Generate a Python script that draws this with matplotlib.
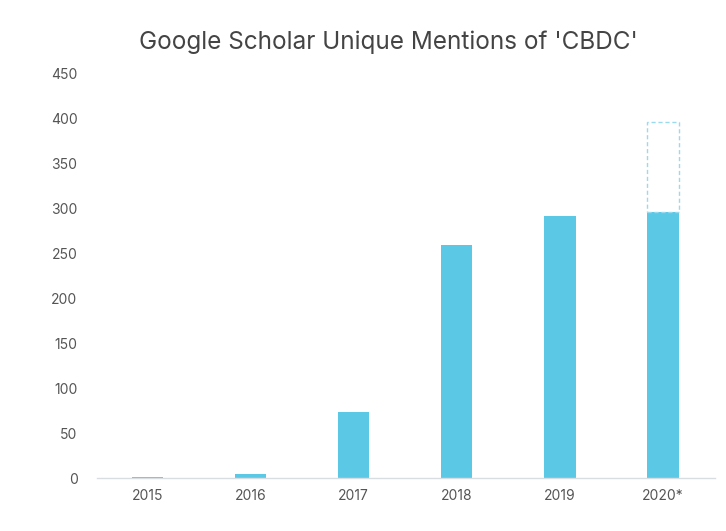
import matplotlib
matplotlib.use("Agg")
import matplotlib.pyplot as plt

plt.rcParams['font.family'] = ['Inter', 'DejaVu Sans']

years = ["2015", "2016", "2017", "2018", "2019", "2020*"]
mentions = [1, 5, 73, 259, 291, 296]
projected_2020 = 396
yticks = [0, 50, 100, 150, 200, 250, 300, 350, 400, 450]

bar_color = "#5BC8E6"
fig = plt.figure(figsize=(7.26, 5.31), dpi=100)
ax = fig.add_axes([0.1336, 0.0998, 0.8514, 0.7627])
x = list(range(len(years)))
w = 0.31
ax.bar(x, mentions, width=w, color=bar_color, zorder=2)
# projected portion for 2020
ax.bar([x[-1]], [projected_2020 - mentions[-1]], bottom=[mentions[-1]], width=w,
       facecolor="none", edgecolor="#9ADAEE", linestyle=(0, (3, 2)), linewidth=1.0, zorder=3)

ax.set_xlim(-0.49, 5.51)
ax.set_ylim(0, 450)
ax.set_yticks(yticks)
ax.set_xticks(x)
ax.set_xticklabels(years)
for s in ["top", "right", "left"]:
    ax.spines[s].set_visible(False)
ax.spines["bottom"].set_color("#D8DDE2")
ax.spines["bottom"].set_linewidth(1.0)
ax.tick_params(axis="both", length=0, labelsize=10, colors="#555555")
ax.tick_params(axis="y", pad=14)
ax.tick_params(axis="x", pad=8)
fig.text(0.535, 0.92, "Google Scholar Unique Mentions of 'CBDC'", ha="center", va="center",
         fontsize=17.5, color="#444444")
fig.savefig("out.png", dpi=100, facecolor="white")
